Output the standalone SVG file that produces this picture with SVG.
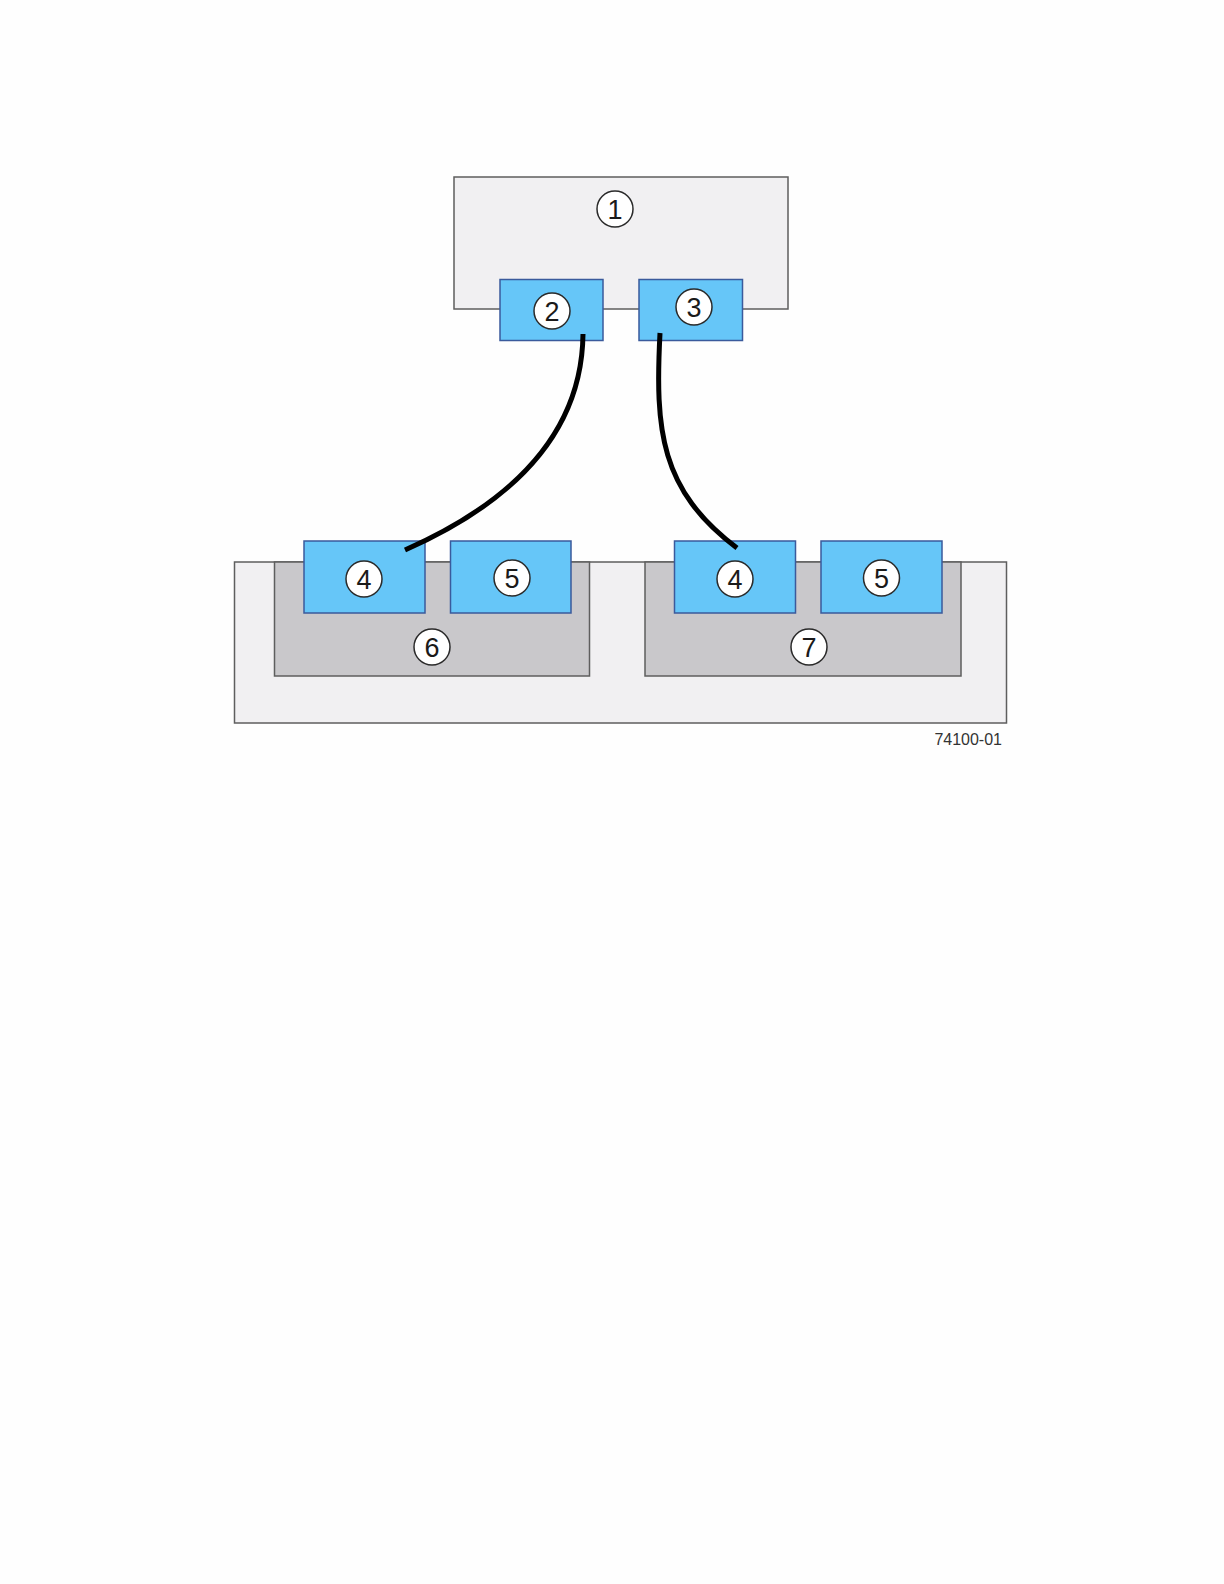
<svg xmlns="http://www.w3.org/2000/svg" width="1224" height="1584" viewBox="0 0 1224 1584">
<style>
.host{fill:#f1f0f2;stroke:#5e5e5e;stroke-width:1.5}
.ctl{fill:#c9c8cb;stroke:#5e5e5e;stroke-width:1.5}
.port{fill:#66c6f8;stroke:#3a5a9c;stroke-width:1.5}
.call{fill:#ffffff;stroke:#2a2a2a;stroke-width:1.5}
.num{font-family:"Liberation Sans",Arial,sans-serif;font-size:27px;fill:#1a1a1a;text-anchor:middle}
.cable{fill:none;stroke:#000;stroke-width:5;stroke-linecap:butt}
.fig{font-family:"Liberation Sans",Arial,sans-serif;font-size:16px;fill:#333;text-anchor:end}
</style>
<rect x="0" y="0" width="1224" height="1584" fill="#fefefe"/>
<g id="node1">
<rect class="host" x="454" y="177" width="334" height="132"/>
<circle class="call" cx="615" cy="209" r="18"/>
<text class="num" x="615" y="218.5">1</text>
</g>
<g id="node2">
<rect class="port" x="500" y="279.5" width="103" height="61"/>
<circle class="call" cx="552" cy="311" r="18"/>
<text class="num" x="552" y="320.5">2</text>
</g>
<g id="node3">
<rect class="port" x="639" y="279.5" width="103.5" height="61"/>
<circle class="call" cx="694" cy="307" r="18"/>
<text class="num" x="694" y="316.5">3</text>
</g>
<g id="enclosure">
<rect class="host" x="234.5" y="562" width="772" height="161"/>
</g>
<g id="node6">
<rect class="ctl" x="274.5" y="562" width="315" height="114"/>
<circle class="call" cx="432" cy="647" r="18"/>
<text class="num" x="432" y="656.5">6</text>
</g>
<g id="node7">
<rect class="ctl" x="645" y="562" width="316" height="114"/>
<circle class="call" cx="809" cy="647" r="18"/>
<text class="num" x="809" y="656.5">7</text>
</g>
<g id="node4a">
<rect class="port" x="304" y="541" width="121" height="72"/>
<circle class="call" cx="364" cy="579" r="18"/>
<text class="num" x="364" y="588.5">4</text>
</g>
<g id="node5a">
<rect class="port" x="450.5" y="541" width="120.5" height="72"/>
<circle class="call" cx="512" cy="578" r="18"/>
<text class="num" x="512" y="587.5">5</text>
</g>
<g id="node4b">
<rect class="port" x="674.5" y="541" width="121" height="72"/>
<circle class="call" cx="735" cy="579" r="18"/>
<text class="num" x="735" y="588.5">4</text>
</g>
<g id="node5b">
<rect class="port" x="821" y="541" width="121" height="72"/>
<circle class="call" cx="881.5" cy="578" r="18"/>
<text class="num" x="881.5" y="587.5">5</text>
</g>
<g id="connectors">
<path class="cable" d="M583,334 C582,430 518,500 405,550"/>
<path class="cable" d="M660,333 C655,430 660,490 737,548"/>
</g>
<text class="fig" x="1002" y="745">74100-01</text>
</svg>
